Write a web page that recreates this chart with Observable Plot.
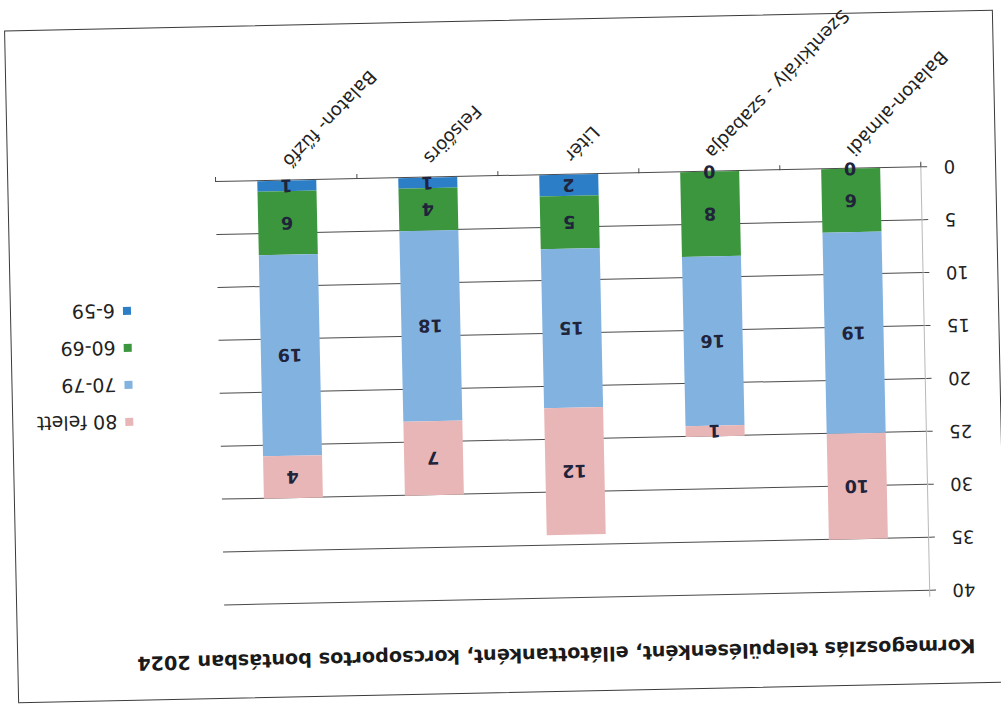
<!DOCTYPE html>
<html><head><meta charset="utf-8">
<script src="https://cdn.jsdelivr.net/npm/d3@7"></script>
<script src="https://cdn.jsdelivr.net/npm/@observablehq/plot@0.6"></script>
<style>
html,body{margin:0;padding:0;background:#fff;}
body{width:1001px;height:706px;overflow:hidden;position:relative;font-family:"DejaVu Sans",sans-serif;}
#frame{position:absolute;left:11px;top:20px;width:989px;height:673px;box-sizing:border-box;border:1px solid #3a3a3a;background:#fff;transform:rotate(178.8deg);transform-origin:50% 50%;}
#title{position:absolute;left:0;top:26px;width:898px;text-align:center;font-weight:bold;font-size:17.5px;line-height:22px;color:#1a1a1a;white-space:nowrap;}
#chart{position:absolute;left:0;top:70px;}
.item{position:absolute;left:867px;height:22px;display:flex;align-items:center;font-size:19px;color:#222;white-space:nowrap;}
.sw{width:8px;height:8px;margin-right:8px;flex:none;}
</style></head><body>
<div id="frame"><div id="title"></div><div id="chart"></div><div id="legend"></div></div>
<script>
const titleText = "Kormegoszlás településenként, ellátottanként, korcsoportos bontásban 2024";
const categories = ["Balaton-almádi", "Szentkirály - szabadja", "Litér", "Felsőörs", "Balaton- fűzfő"];
const series = ["6-59", "60-69", "70-79", "80 felett"];
const v659 = [0, 0, 2, 1, 1];
const v6069 = [6, 8, 5, 4, 6];
const v7079 = [19, 16, 15, 18, 19];
const v80 = [10, 1, 12, 7, 4];
const colors = ["#2c7ec6", "#3b963d", "#82b2df", "#e9b6b7"];
const yTicks = [0, 5, 10, 15, 20, 25, 30, 35, 40];

const values = [v659, v6069, v7079, v80];
const rows = [];
series.forEach((s, si) => categories.forEach((c, ci) => rows.push({category: c, series: s, value: values[si][ci]})));

// title
const title = document.getElementById("title");
title.textContent = titleText;
const ctx = document.createElement("canvas").getContext("2d");
ctx.font = "bold 100px 'DejaVu Sans'";
const tw = ctx.measureText(titleText).width;
title.style.fontSize = (100 * 839 / tw).toFixed(2) + "px";

const W = 987, H = 601, ML = 73, MR = 207, MT = 22.5, MB = 155;
const step = (W - ML - MR) / categories.length;

const chart = Plot.plot({
  width: W, height: H, marginLeft: ML, marginRight: MR, marginTop: MT, marginBottom: MB,
  style: {fontFamily: "'DejaVu Sans', sans-serif", fontSize: "18px", color: "#222", background: "transparent", overflow: "visible"},
  x: {domain: categories, paddingInner: 0, paddingOuter: 0, label: null},
  y: {domain: [0, 40], label: null},
  color: {domain: series, range: colors},
  marks: [
    Plot.gridY(yTicks, {stroke: "#4a4a4a", strokeOpacity: 1, strokeWidth: 1}),
    Plot.ruleX(categories.slice(0, 1), {dx: -step / 2, stroke: "#b8b8b8", insetTop: -6, insetBottom: -6}),
    Plot.ruleX(categories, {dx: -step / 2, stroke: "#4a4a4a", insetTop: H - MT - MB, insetBottom: -5}),
    Plot.ruleX(categories.slice(-1), {dx: step / 2, stroke: "#4a4a4a", insetTop: H - MT - MB, insetBottom: -5}),
    Plot.barY(rows, {x: "category", y: "value", fill: "series", insetLeft: 41, insetRight: 41}),
    Plot.text(rows, Plot.stackY({x: "category", y: "value", text: d => String(d.value), fill: "#20233a", fontSize: 17.5, fontWeight: "bold"})),
    Plot.axisY(yTicks, {tickSize: 5, tickPadding: 17, stroke: "#4a4a4a", fill: "#222", fontSize: 18, label: null}),
    Plot.axisX({tickRotate: -45, tickSize: 0, tickPadding: 16, fontSize: 18, fill: "#222", label: null})
  ]
});
document.getElementById("chart").appendChild(chart);

// legend (top to bottom: reverse series order)
const legend = document.getElementById("legend");
series.slice().reverse().forEach((s, i) => {
  const idx = series.indexOf(s);
  const it = document.createElement("div");
  it.className = "item";
  it.style.top = (267 + i * 37) + "px";
  const sw = document.createElement("div");
  sw.className = "sw";
  sw.style.background = colors[idx];
  const tx = document.createElement("span");
  tx.textContent = s;
  it.appendChild(sw); it.appendChild(tx);
  legend.appendChild(it);
});
</script>
</body></html>
